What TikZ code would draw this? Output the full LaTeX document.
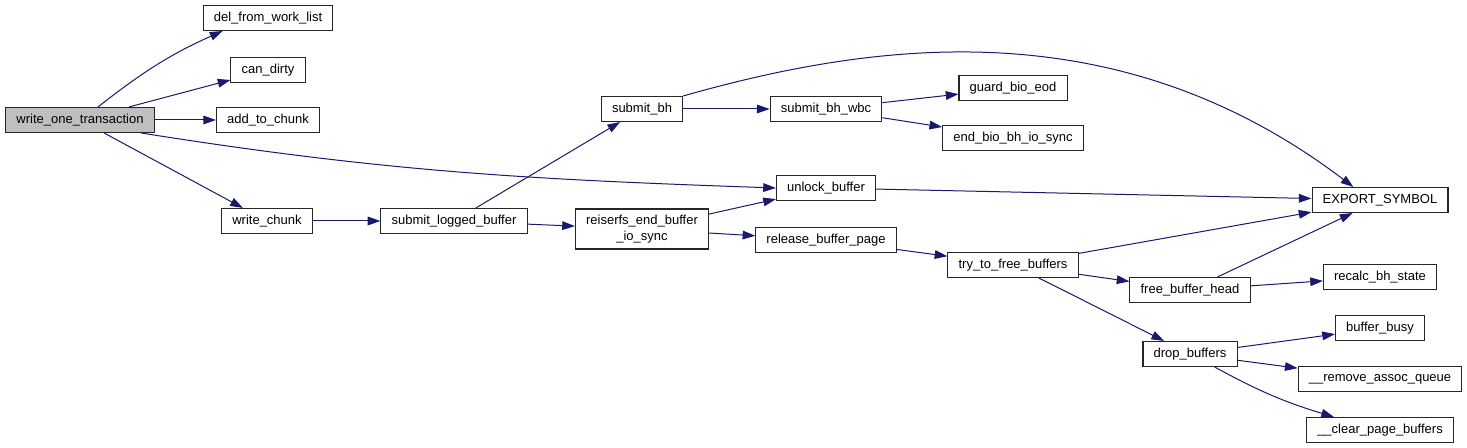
\documentclass[tikz,border=0pt]{standalone}
\usepackage{fontspec}
\setmainfont{Liberation Sans}
\usetikzlibrary{arrows.meta,positioning,calc}

\definecolor{edgeblue}{RGB}{25,25,112}

\begin{document}
\begin{tikzpicture}[x=0.75pt,y=0.75pt,
  fn/.style={draw=black!85,line width=0.8pt,fill=white,inner xsep=8pt,inner ysep=0pt,
    minimum height=18.75pt,font=\fontsize{9.75}{11.5}\selectfont},
  root/.style={fn,fill=black!25},
  call/.style={draw=edgeblue,line width=0.75pt,-{Triangle[length=9.5pt,width=6.5pt]}}]
  \useasboundingbox (0,0) rectangle (1467,-448);
  % callers / callees
  \node[root] (wot) at (80,-120) {write\_one\_transaction};
  \node[fn] (dfwl) at (268,-18) {del\_from\_work\_list};
  \node[fn] (cdty) at (268,-70) {can\_dirty};
  \node[fn] (atc) at (268,-120) {add\_to\_chunk};
  \node[fn] (wc) at (267,-221) {write\_chunk};
  \node[fn] (slb) at (454,-221) {submit\_logged\_buffer};
  \node[fn] (sbh) at (642,-109) {submit\_bh};
  \node[fn,minimum height=30pt,align=center] (rebio) at (642,-229) {reiserfs\_end\_buffer\\\_io\_sync};
  \node[fn] (wbc) at (826,-109) {submit\_bh\_wbc};
  \node[fn] (gbe) at (1013,-88) {guard\_bio\_eod};
  \node[fn] (ebb) at (1013,-138) {end\_bio\_bh\_io\_sync};
  \node[fn] (unl) at (826,-188) {unlock\_buffer};
  \node[fn] (rbp) at (826,-240) {release\_buffer\_page};
  \node[fn] (ttfb) at (1013,-265) {try\_to\_free\_buffers};
  \node[fn] (exp) at (1380,-200) {EXPORT\_SYMBOL};
  \node[fn] (fbh) at (1190,-290) {free\_buffer\_head};
  \node[fn] (rbs) at (1380,-277) {recalc\_bh\_state};
  \node[fn] (dbuf) at (1190,-354) {drop\_buffers};
  \node[fn] (bbusy) at (1380,-328) {buffer\_busy};
  \node[fn] (rmq) at (1380,-379) {\_\_remove\_assoc\_queue};
  \node[fn] (cpb) at (1380,-430) {\_\_clear\_page\_buffers};

  % edges
  \draw[call] (wot.36) to[out=38,in=204] (dfwl.196);
  \draw[call] (wot) -- (cdty);
  \draw[call] (wot) -- (atc);
  \draw[call] (wot.-12) to[out=-9,in=178] (unl.west);
  \draw[call] (wot) -- (wc);
  \draw[call] (wc) -- (slb);
  \draw[call] (slb) -- (sbh);
  \draw[call] (slb) -- (rebio);
  \draw[call] (sbh) -- (wbc);
  \draw[call] (sbh.north east) .. controls (880,-40) and (1120,-10) .. (exp.154); % long arc over the top
  \draw[call] (wbc) -- (gbe);
  \draw[call] (wbc) -- (ebb);
  \draw[call] (rebio) -- (unl);
  \draw[call] (rebio) -- (rbp);
  \draw[call] (unl) -- (exp);
  \draw[call] (rbp) -- (ttfb);
  \draw[call] (ttfb) -- (exp);
  \draw[call] (ttfb) -- (fbh);
  \draw[call] (ttfb) -- (dbuf);
  \draw[call] (fbh) -- (exp);
  \draw[call] (fbh) -- (rbs);
  \draw[call] (dbuf) -- (bbusy);
  \draw[call] (dbuf) -- (rmq);
  \draw[call] (dbuf) to[bend right=6] (cpb);
\end{tikzpicture}
\end{document}
